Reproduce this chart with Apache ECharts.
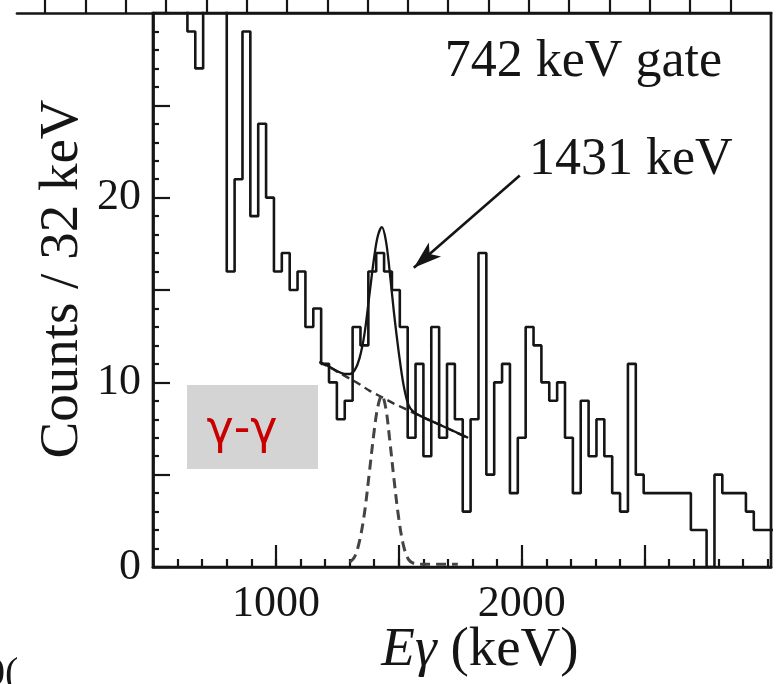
<!DOCTYPE html>
<html>
<head>
<meta charset="utf-8">
<script src="https://cdn.jsdelivr.net/npm/echarts@6/dist/echarts.min.js"></script>
<style>
html, body { margin: 0; padding: 0; background: #fff; }
#chart { width: 776px; height: 684px; }
</style>
</head>
<body>
<div id="chart"></div>
<script>
// gamma spectrum in coincidence with the 742 keV transition, 32 keV bins
const binStart = 480;   // keV, lower edge of the first bin
const binWidth = 32;    // keV
const counts = [
  40, 44, 42, 38, 35,                                   // 480 - 640 keV (off scale)
  29, 27, 36, 38, 33, 16, 21, 29, 19, 24, 20, 16, 17,   // 640 - 1056
  15, 16, 13, 14, 11, 10, 8, 9, 13, 12, 16, 17, 16,     // 1056 - 1472
  15, 13, 7, 11, 6, 13, 7, 11, 8, 3, 8, 17, 5,          // 1472 - 1888
  10, 11, 4, 7, 13, 12, 10, 9, 10, 7, 4, 9, 6,          // 1888 - 2304
  8, 6, 4, 3, 11, 5, 4, 4, 4, 4, 4, 4, 2,               // 2304 - 2720
  2, 0, 5, 4, 4, 4, 3, 2, 2, 2                          // 2720 - 3040
];

// fitted curves: total (peak + background), background, peak alone
const fitTotal = [
  [1177, 11.1], [1210, 10.9], [1250, 10.6], [1280, 10.45], [1300, 10.45],
  [1320, 10.65], [1340, 11.3], [1360, 12.6], [1380, 14.7], [1400, 16.8],
  [1415, 17.95], [1431, 18.4], [1447, 17.7], [1462, 16.1], [1480, 13.8],
  [1500, 11.6], [1520, 9.8], [1540, 8.75], [1560, 8.4], [1600, 8.1],
  [1650, 7.8], [1700, 7.5], [1740, 7.25], [1782, 7.0]
];
const fitBackground = [
  [1177, 11.1], [1220, 10.8], [1260, 10.5], [1300, 10.2], [1340, 9.9],
  [1380, 9.55], [1431, 9.2], [1480, 8.85], [1520, 8.6], [1560, 8.35],
  [1600, 8.1], [1650, 7.8], [1700, 7.5], [1740, 7.25], [1782, 7.0]
];
const fitPeak = [
  [1300, 0.25], [1320, 0.55], [1340, 1.4], [1360, 2.9], [1380, 5.1],
  [1400, 7.4], [1415, 8.7], [1431, 9.3], [1447, 8.6], [1462, 7.0],
  [1480, 4.8], [1500, 2.6], [1520, 1.1], [1540, 0.4], [1560, 0.2],
  [1600, 0.15], [1650, 0.15], [1700, 0.15], [1740, 0.15]
];

// axis ticks and labels
const xMin = 500, xMax = 3014;
const xMinorTicks = [];
for (let e = 600; e <= 3000; e += 100) xMinorTicks.push(e);
const xMajorTicks = [1000, 1500, 2000, 2500];
const xTickLabels = [1000, 2000];
const yTickLabels = [0, 10, 20];
const topFrameTicks = [1, 2, 3, 4, 5, 6, 7, 8, 9, 10, 11, 12, 13, 14, 15, 16, 17, 18];

// arrow pointing at the 1431 keV peak
const arrowTail = [1992, 21.2];
const arrowHead = [1561, 16.2];

const histData = counts.map((c, i) => [binStart + i * binWidth, c]);
histData.push([binStart + counts.length * binWidth, counts[counts.length - 1]]);

const serif = 'Liberation Serif, Times New Roman, serif';
const ink = '#151515';

const chart = echarts.init(document.getElementById('chart'), null, { renderer: 'canvas' });
chart.setOption({
  animation: false,
  backgroundColor: '#ffffff',
  grid: [
    { left: 153, top: 13, width: 618, height: 554, show: true,
      borderColor: ink, borderWidth: 2.7, backgroundColor: 'transparent' },
    { left: 17, top: 13, width: 754, height: 10, show: false }
  ],
  xAxis: [
    { gridIndex: 0, type: 'value', min: xMin, max: xMax, position: 'bottom',
      axisLine: { show: true, onZero: false, lineStyle: { color: ink, width: 2.7 } },
      axisTick: { show: true, inside: true, length: 8, customValues: xMinorTicks,
                  lineStyle: { color: ink, width: 2.2 } },
      axisLabel: { show: true, customValues: xTickLabels, margin: 15,
                   formatter: v => String(v),
                   fontFamily: serif, fontSize: 44, color: ink },
      splitLine: { show: false } },
    { gridIndex: 0, type: 'value', min: xMin, max: xMax, position: 'bottom',
      axisLine: { show: false, onZero: false },
      axisTick: { show: true, inside: true, length: 22, customValues: xMajorTicks,
                  lineStyle: { color: ink, width: 2.2 } },
      axisLabel: { show: false }, splitLine: { show: false } },
    { gridIndex: 1, type: 'value', min: 0.3, max: 19.01, position: 'top',
      axisLine: { show: true, onZero: false, lineStyle: { color: ink, width: 2.7 } },
      axisTick: { show: true, inside: false, length: 14, customValues: topFrameTicks,
                  lineStyle: { color: ink, width: 2.2 } },
      axisLabel: { show: false }, splitLine: { show: false } }
  ],
  yAxis: [
    { gridIndex: 0, type: 'value', min: 0, max: 30, interval: 5,
      axisLine: { show: true, onZero: false, lineStyle: { color: ink, width: 2.7 } },
      axisTick: { show: true, inside: true, length: 17, lineStyle: { color: ink, width: 2.2 } },
      minorTick: { show: true, splitNumber: 5, length: 6, lineStyle: { color: ink, width: 2.2 } },
      axisLabel: { show: true, customValues: yTickLabels, margin: 12,
                   formatter: v => String(v),
                   fontFamily: serif, fontSize: 44, color: ink },
      splitLine: { show: false }, minorSplitLine: { show: false } },
    { gridIndex: 1, type: 'value', min: 0, max: 1, show: false }
  ],
  series: [
    { name: 'fit background', type: 'line', xAxisIndex: 0, yAxisIndex: 0,
      data: fitBackground, smooth: 0.3, symbol: 'none', silent: true,
      lineStyle: { color: '#333', width: 2.4, type: [8, 5] }, z: 3 },
    { name: 'fit peak', type: 'line', xAxisIndex: 0, yAxisIndex: 0,
      data: fitPeak, smooth: 0.35, symbol: 'none', silent: true,
      lineStyle: { color: '#444', width: 3, type: [10, 6] }, z: 3 },
    { name: 'fit total', type: 'line', xAxisIndex: 0, yAxisIndex: 0,
      data: fitTotal, smooth: 0.35, symbol: 'none', silent: true,
      lineStyle: { color: ink, width: 2.3 }, z: 4 },
    { name: 'spectrum', type: 'line', xAxisIndex: 0, yAxisIndex: 0,
      data: histData, step: 'end', symbol: 'none', silent: true, clip: true,
      lineStyle: { color: ink, width: 2.6 }, z: 5,
      markLine: {
        silent: true, animation: false,
        label: { show: false },
        lineStyle: { color: ink, width: 2.6, type: 'solid' },
        data: [[
          { coord: arrowTail, symbol: 'none' },
          { coord: arrowHead, symbol: 'arrow', symbolSize: [14, 28] }
        ]]
      } }
  ],
  graphic: [
    { type: 'text', x: 722, y: 62,
      style: { text: '742 keV gate', font: '52px ' + serif, fill: ink,
               align: 'right', verticalAlign: 'middle' } },
    { type: 'text', x: 529, y: 160,
      style: { text: '1431 keV', font: '52px ' + serif, fill: ink,
               align: 'left', verticalAlign: 'middle' } },
    { type: 'text', x: 63, y: 279, rotation: Math.PI / 2,
      style: { text: 'Counts / 32 keV', font: '55px ' + serif, fill: ink,
               align: 'center', verticalAlign: 'middle' } },
    { type: 'text', x: 480, y: 651,
      style: { text: '{i|Eγ} (keV)', font: '55px ' + serif, fill: ink,
               align: 'center', verticalAlign: 'middle',
               rich: { i: { fontStyle: 'italic', fontFamily: serif, fontSize: 55, fill: ink } } } },
    { type: 'rect', shape: { x: 187, y: 385, width: 131, height: 84 },
      style: { fill: '#d4d4d4' }, z: 10 },
    { type: 'text', x: 242, y: 431, z: 11,
      style: { text: 'γ-γ', font: '46px DejaVu Sans, sans-serif', fill: '#c80000',
               align: 'center', verticalAlign: 'middle' } },
    { type: 'text', x: -15, y: 674,
      style: { text: '0(', font: '40px ' + serif, fill: ink,
               align: 'left', verticalAlign: 'middle' } }
  ]
});
</script>
</body>
</html>
